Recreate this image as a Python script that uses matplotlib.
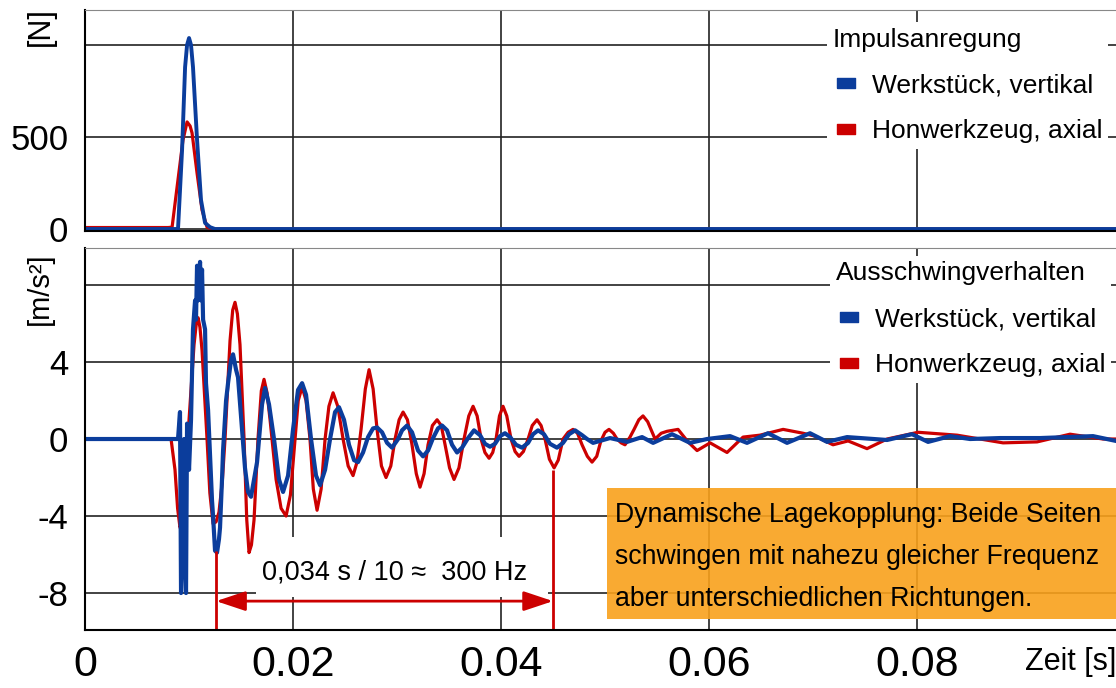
import matplotlib.pyplot as plt
from matplotlib.lines import Line2D
from matplotlib.patches import Rectangle

plt.rcParams['font.family'] = ['Liberation Sans', 'DejaVu Sans']

BLUE = '#0b3d9c'
RED = '#cc0000'

# Impulsanregung: Kraft [N] ueber Zeit [ms]
imp_t_blue = [0, 8.94, 9.33, 9.62, 9.81, 10.0, 10.19, 10.38, 10.77, 11.15, 11.54, 12.02, 12.5, 99.13]
imp_f_blue = [0, 0, 430, 880, 1000, 1038, 1000, 880, 485, 158, 33, 10, 0, 0]
imp_t_red = [0, 7.98, 8.37, 8.85, 9.42, 9.81, 10.1, 10.29, 10.77, 11.25, 11.73, 12.21, 99.13]
imp_f_red = [8, 8, 10, 228, 484, 582, 560, 522, 304, 103, 10, 0, 0]

# Ausschwingverhalten: Beschleunigung [m/s²] ueber Zeit [ms]
aus_t_blue = [0, 8.85, 8.94, 9.13, 9.23, 9.42, 9.52, 9.62, 9.71, 9.81, 10.0, 10.19, 10.38, 10.58,
              10.67, 10.77, 10.87, 10.96, 11.06, 11.15, 11.25, 11.35, 11.54, 11.63, 11.83, 12.02,
              12.21, 12.31, 12.5, 12.69, 12.88, 12.98, 13.17, 13.27, 13.56, 13.75, 14.04, 14.23,
              14.52, 14.71, 15.1, 15.38, 15.67, 15.96, 16.25, 16.54, 17.02, 17.31, 17.69, 18.17,
              18.65, 19.04, 19.52, 20.0, 20.48, 20.87, 21.25, 21.73, 22.21, 22.6, 23.08, 23.56,
              24.04, 24.42, 24.9, 25.38, 25.87, 26.25, 26.73, 27.21, 27.69, 28.08, 28.56, 29.04,
              29.52, 30.1, 30.48, 30.96, 31.44, 32.02, 32.5, 32.98, 33.46, 33.94, 34.33, 34.81,
              35.29, 35.77, 36.25, 36.83, 37.4, 37.98, 38.46, 38.94, 39.42, 39.9, 40.38, 40.87,
              41.44, 42.02, 42.6, 43.08, 43.56, 44.13, 44.71, 45.38, 45.96, 46.54, 47.12, 47.79,
              48.27, 48.85, 50.48, 52.12, 53.56, 54.62, 56.44, 58.17, 59.81, 62.02, 63.65, 65.67,
              67.5, 69.71, 71.35, 73.27, 75.77, 77.12, 79.52, 81.06, 83.17, 85.1, 87.98, 91.83,
              96.92, 99.13]
aus_a_blue = [0, 0, 0, 1.4, -8.0, -4.2, 0, -6.3, -8.0, 0.8, -1.6, 1.0, 5.7, 7.2,
              6.2, 9.0, 7.2, 8.5, 9.2, 7.2, 8.8, 6.2, 5.7, 2.9, 1.5, -0.9,
              -3.2, -4.0, -5.8, -5.9, -5.2, -4.6, -2.1, -0.6, 2.0, 2.9, 4.1, 4.4,
              3.6, 3.2, 0.5, -1.5, -2.75, -3.0, -2.1, -1.2, 1.8, 2.65, 1.8, 0,
              -2.1, -2.75, -1.9, 0.5, 2.55, 2.9, 2.3, 0, -1.9, -2.4, -1.6, 0,
              1.4, 1.65, 1.0, -0.3, -1.1, -1.2, -0.7, 0.1, 0.55, 0.6, 0.35, -0.2,
              -0.45, 0, 0.45, 0.7, 0.35, -0.6, -0.9, -0.6, 0.05, 0.55, 0.7, 0.45,
              -0.3, -0.7, -0.45, 0.05, 0.45, 0.2, -0.25, -0.4, -0.25, 0.15, 0.3, 0.1,
              -0.3, -0.45, -0.2, 0.25, 0.45, 0.25, -0.25, -0.45, -0.2, 0.25, 0.45, 0.2,
              0, -0.2, 0.05, -0.15, 0.1, -0.2, 0.25, -0.2, 0, 0.15, -0.2, 0.3,
              -0.2, 0.3, -0.15, 0.1, 0, -0.05, 0.25, -0.15, 0.15, 0, 0.05, 0.05,
              0.15, -0.1]
aus_t_red = [0, 8.27, 8.65, 8.9, 9.13, 9.35, 9.52, 10.0, 10.48, 10.7, 10.87, 11.05, 11.25, 11.73,
             12.0, 12.31, 12.6, 12.88, 13.2, 13.46, 13.94, 14.2, 14.42, 14.65, 14.9, 15.29,
             15.55, 15.77, 16.0, 16.25, 16.63, 16.95, 17.21, 17.5, 17.79, 18.37, 18.85, 19.33,
             19.75, 20.1, 20.5, 20.87, 21.25, 21.63, 21.95, 22.31, 22.7, 23.08, 23.45, 23.85,
             24.3, 24.81, 25.3, 25.77, 26.15, 26.54, 26.95, 27.31, 27.7, 28.08, 28.5, 28.94,
             29.4, 29.81, 30.2, 30.58, 31.0, 31.44, 31.85, 32.21, 32.6, 32.98, 33.4, 33.85,
             34.25, 34.62, 35.05, 35.48, 35.95, 36.44, 36.9, 37.31, 37.7, 38.08, 38.45, 38.85,
             39.2, 39.52, 39.85, 40.19, 40.55, 40.96, 41.35, 41.73, 42.15, 42.6, 43.0, 43.46,
             43.85, 44.23, 44.65, 45.1, 45.5, 45.96, 46.45, 46.92, 47.35, 47.79, 48.3, 48.75,
             49.2, 49.6, 50.0, 50.38, 50.8, 51.15, 51.55, 51.92, 52.4, 52.79, 53.25, 53.65,
             54.1, 54.81, 55.4, 55.96, 57.02, 57.98, 58.85, 60.1, 61.73, 63.27, 64.9, 67.12,
             69.04, 70.19, 71.92, 73.37, 75.19, 77.12, 80.1, 83.85, 86.06, 88.27, 91.54, 94.71,
             97.88, 99.13]
aus_a_red = [0, 0, -1.6, -3.6, -4.6, -4.3, -3.2, 1.0, 4.9, 6.0, 6.3, 5.8, 4.6, 0,
             -2.8, -4.4, -4.3, -3.8, -2.2, 0, 5.1, 6.7, 7.1, 6.5, 4.9, 0,
             -4.2, -5.9, -5.5, -4.2, 0, 2.5, 3.1, 2.4, 1.0, -2.1, -3.6, -4.0,
             -2.9, -0.6, 2.0, 2.7, 2.0, 0, -2.6, -3.7, -2.6, 0, 1.7, 2.4,
             1.7, 0, -1.4, -1.9, -1.2, 0.5, 2.6, 3.6, 2.6, 0.5, -1.4, -2.0,
             -1.4, 0, 1.0, 1.4, 1.0, -0.3, -1.8, -2.5, -1.8, -0.3, 0.7, 1.0,
             0.7, -0.3, -1.5, -2.1, -1.5, 0, 1.2, 1.7, 1.2, 0, -0.7, -1.0,
             -0.7, 0, 1.2, 1.7, 1.2, 0, -0.65, -0.9, -0.65, 0, 0.7, 1.0,
             0.7, 0, -1.05, -1.5, -1.1, 0, 0.35, 0.5, 0.3, -0.3, -0.9, -1.2,
             -0.9, -0.1, 0.35, 0.5, 0.3, 0, -0.2, -0.3, 0.1, 0.5, 1.0, 1.2,
             0.9, 0, 0.3, 0.4, 0.5, -0.15, -0.6, -0.2, -0.7, 0.1, 0.2, 0.5,
             0.3, 0.15, -0.3, -0.1, -0.5, 0, 0.35, 0.2, 0, -0.2, -0.15, 0.25,
             0, 0]

# Periodenmessung: 10 Schwingungen
period_t = [0.0126, 0.0450]

x_ticks = [0, 0.02, 0.04, 0.06, 0.08]
x_tick_labels = ['0', '0.02', '0.04', '0.06', '0.08']
imp_ticks = [0, 500, 1000]
imp_tick_labels = ['0', '500', '']
aus_ticks = [-8, -4, 0, 4, 8]
aus_tick_labels = ['-8', '-4', '0', '4', '']
legend_labels = ['Werkstück, vertikal', 'Honwerkzeug, axial']

fig = plt.figure(figsize=(11.16, 6.88), dpi=100)
ax1 = fig.add_axes([0.0762, 0.6642, 0.9238, 0.3212])
ax2 = fig.add_axes([0.0762, 0.0843, 0.9238, 0.5552])

for ax in (ax1, ax2):
    ax.set_xlim(0, 0.09913)
    ax.set_xticks(x_ticks)
    ax.grid(True, color='#222222', lw=1.2)
    ax.set_axisbelow(True)
    ax.tick_params(length=0)
    ax.spines['right'].set_visible(False)
    ax.spines['top'].set_color('#888888')
    ax.spines['left'].set_linewidth(1.5)
    ax.spines['bottom'].set_linewidth(1.5)

rect_marker = [(-1, -0.5), (1, -0.5), (1, 0.5), (-1, 0.5), (-1, -0.5)]
handles = [Line2D([], [], ls='none', marker=rect_marker, markersize=13, color=BLUE),
           Line2D([], [], ls='none', marker=rect_marker, markersize=13, color=RED)]
leg_kw = dict(loc='upper left', borderaxespad=0, fancybox=False, framealpha=1,
              facecolor='white', edgecolor='none', fontsize=19, title_fontsize=19,
              alignment='left', handlelength=1.0, handletextpad=0.48,
              labelspacing=0.82, borderpad=0.22)

# Impulsanregung
ax1.plot([t / 1000 for t in imp_t_red], imp_f_red, color=RED, lw=2.3)
ax1.plot([t / 1000 for t in imp_t_blue], imp_f_blue, color=BLUE, lw=2.8)
ax1.set_ylim(-11, 1190)
ax1.set_yticks(imp_ticks)
ax1.set_yticklabels(imp_tick_labels, fontsize=25)
ax1.tick_params(axis='y', pad=12)
ax1.set_xticklabels([])
fig.text(0.0365, 0.962, '[N]', rotation=90, fontsize=22, ha='center', va='center')
ax1.legend(handles=handles, labels=legend_labels, title='Impulsanregung',
           bbox_to_anchor=(0.7197, 0.946), **leg_kw)

# Ausschwingverhalten
ax2.plot([t / 1000 for t in aus_t_red], aus_a_red, color=RED, lw=2.3)
ax2.plot([t / 1000 for t in aus_t_blue], aus_a_blue, color=BLUE, lw=3.0)
ax2.set_ylim(-9.92, 9.92)
ax2.set_yticks(aus_ticks)
ax2.set_yticklabels(aus_tick_labels, fontsize=25)
ax2.tick_params(axis='y', pad=12)
ax2.set_xticklabels(x_tick_labels, fontsize=31)
ax2.tick_params(axis='x', pad=11)
fig.text(0.036, 0.581, '[m/s²]', rotation=90, fontsize=21, ha='center', va='center')
ax2.text(1.0, -0.084, 'Zeit [s]', transform=ax2.transAxes, fontsize=22,
         ha='right', va='center')
ax2.legend(handles=handles, labels=legend_labels, title='Ausschwingverhalten',
           bbox_to_anchor=(0.7226, 0.980), **leg_kw)

# Periodenmessung
ax2.add_patch(Rectangle((0.01644, -8.21), 0.02808, 3.12, facecolor='white',
                        edgecolor='none', zorder=1.5))
ax2.vlines(period_t[0], -9.92, -5.8, color=RED, lw=2)
ax2.vlines(period_t[1], -9.92, -1.6, color=RED, lw=2)
ax2.annotate('', xy=(period_t[0], -8.42), xytext=(period_t[1], -8.42),
             arrowprops=dict(arrowstyle='<|-|>,head_length=0.9,head_width=0.3',
                             color=RED, lw=2, mutation_scale=20, shrinkA=0, shrinkB=0))
ax2.text(0.0170, -6.95, '0,034 s / 10 ≈  300 Hz', fontsize=19.5, ha='left', va='center')

# Hinweisbox
ax2.add_patch(Rectangle((0.5063, 0.0288), 0.4937, 0.343, transform=ax2.transAxes,
                        facecolor='#f9a11b', edgecolor='none', alpha=0.9, zorder=3,
                        clip_on=False))
ax2.text(0.5141, 0.192, 'Dynamische Lagekopplung: Beide Seiten\n'
         'schwingen mit nahezu gleicher Frequenz\n'
         'aber unterschiedlichen Richtungen.',
         transform=ax2.transAxes, fontsize=19.2, ha='left', va='center',
         linespacing=1.80, zorder=4)

fig.savefig('out.png', dpi=100)
